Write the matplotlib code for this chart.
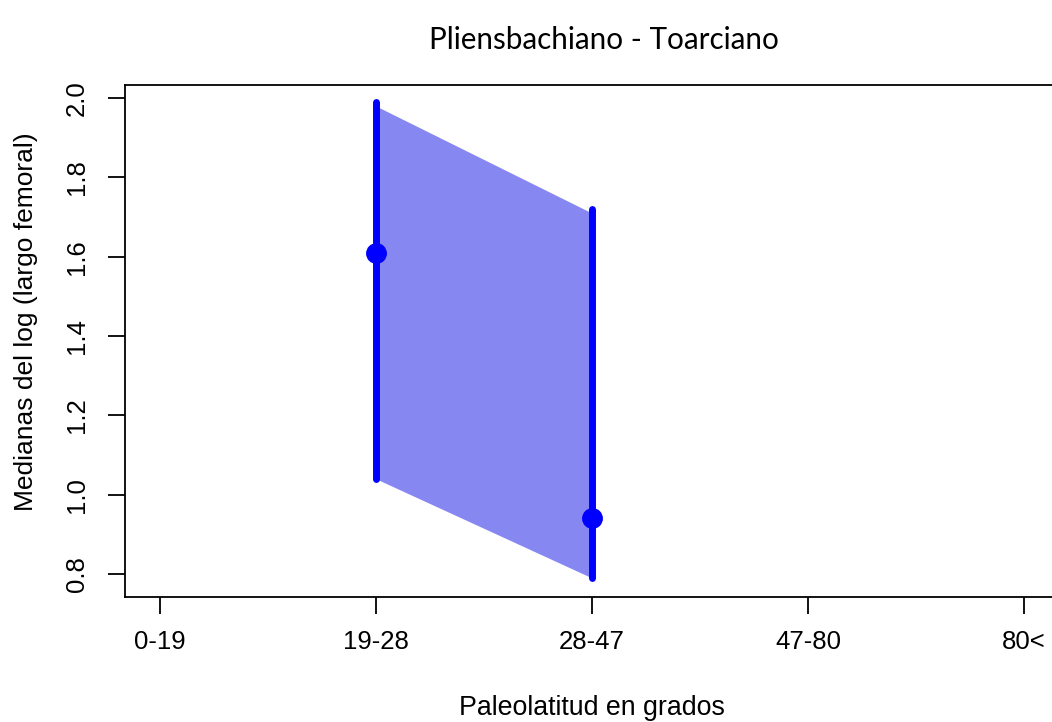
import matplotlib
matplotlib.use("Agg")
import matplotlib.pyplot as plt

plt.rcParams["font.family"] = ["Liberation Sans", "DejaVu Sans"]

# categorías de paleolatitud
categorias = ["0-19", "19-28", "28-47", "47-80", "80<"]
posiciones = [1, 2, 3, 4, 5]

# intervalos y medianas (solo hay datos en 19-28 y 28-47)
x_datos = [2, 3]
medianas = [1.61, 0.94]
limite_inf = [1.04, 0.79]
limite_sup = [1.99, 1.72]

# bordes del polígono sombreado
poly_sup = [1.98, 1.71]
poly_inf = [1.04, 0.79]

yticks = [0.8, 1.0, 1.2, 1.4, 1.6, 1.8, 2.0]

W, H = 1052, 722
fig = plt.figure(figsize=(W / 100, H / 100), dpi=100)
ax = fig.add_axes([125 / W, 1 - 597 / H, (1059 - 125) / W, (597 - 85) / H])

ax.fill_between(x_datos, poly_inf, poly_sup, color="#8787f2", linewidth=0, zorder=1)
for x, lo, hi in zip(x_datos, limite_inf, limite_sup):
    ax.plot([x, x], [lo, hi], color="#0000ff", linewidth=5, solid_capstyle="round", zorder=2)
ax.plot(x_datos, medianas, "o", color="#0000ff", markersize=14, zorder=3)

ax.set_xlim(0.838, 5.162)
ax.set_ylim(0.742, 2.033)

ax.set_xticks(posiciones)
ax.set_xticklabels(categorias)
ax.set_yticks(yticks)
ax.set_yticklabels([f"{v:.1f}" for v in yticks], rotation=90, va="center")

ax.tick_params(axis="both", direction="out", length=12, width=1.3, labelsize=18.5)
ax.tick_params(axis="x", pad=12)
ax.tick_params(axis="y", pad=14)

for side in ["left", "top", "bottom", "right"]:
    ax.spines[side].set_linewidth(1.3)

# textos colocados a mano, como en el gráfico original
fig.text(604 / W, 1 - 40 / H, "Pliensbachiano - Toarciano", fontsize=21.3,
         family=["Lato", "DejaVu Sans"], ha="center", va="center")
fig.text(592 / W, 1 - 708 / H, "Paleolatitud en grados", fontsize=19.3,
         ha="center", va="center")
fig.text(26 / W, 1 - 322 / H, "Medianas del log (largo femoral)", fontsize=19,
         rotation=90, ha="center", va="center")

fig.savefig("out.png", dpi=100)
